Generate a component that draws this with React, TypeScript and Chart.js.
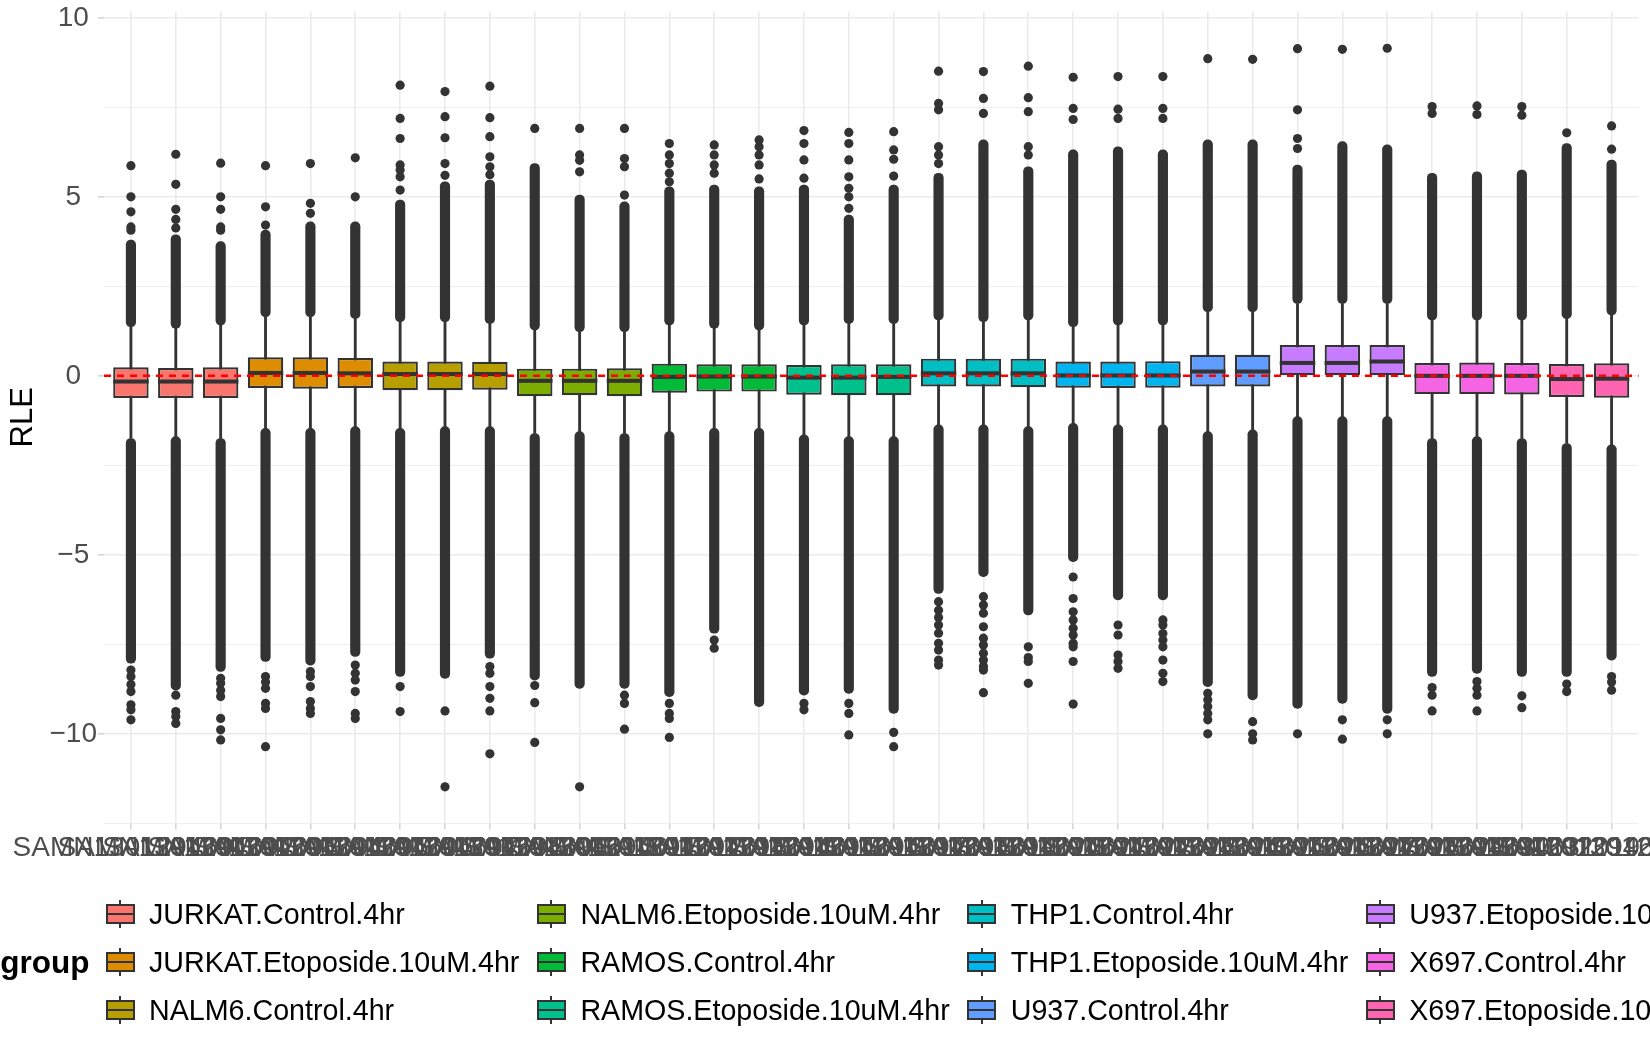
import { useEffect, useRef } from "react";
import { Chart, registerables } from "chart.js";

Chart.register(...registerables);

// groups (legend order) and ggplot hue colours
const groupNames = [
  "JURKAT.Control.4hr", "JURKAT.Etoposide.10uM.4hr", "NALM6.Control.4hr",
  "NALM6.Etoposide.10uM.4hr", "RAMOS.Control.4hr", "RAMOS.Etoposide.10uM.4hr",
  "THP1.Control.4hr", "THP1.Etoposide.10uM.4hr", "U937.Control.4hr",
  "U937.Etoposide.10uM.4hr", "X697.Control.4hr", "X697.Etoposide.10uM.4hr",
];
const groupColors = [
  "#F8766D", "#DE8C00", "#B79F00", "#7CAE00", "#00BA38", "#00C08B",
  "#00BFC4", "#00B4F0", "#619CFF", "#C77CFF", "#F564E3", "#FF64B0",
];

// samples on the x axis
const sampleNames = [
  "SAMN1301294601", "SAMN1301294602", "SAMN1301294603", "SAMN1301294604", "SAMN1301294605",
  "SAMN1301294606", "SAMN1301294607", "SAMN1301294608", "SAMN1301294609", "SAMN1301294610",
  "SAMN1301294611", "SAMN1301294612", "SAMN1301294613", "SAMN1301294614", "SAMN1301294615",
  "SAMN1301294616", "SAMN1301294617", "SAMN1301294618", "SAMN1301294619", "SAMN1301294620",
  "SAMN1301294621", "SAMN1301294622", "SAMN1301294623", "SAMN1301294624", "SAMN1301294625",
  "SAMN1301294626", "SAMN1301294627", "SAMN1301294628", "SAMN1301294629", "SAMN1301294630",
  "SAMN1301294631", "SAMN1301292019", "SAMN1301294633", "SAMN1301294634",
];
const sampleGroup = [0, 0, 0, 1, 1, 1, 2, 2, 2, 3, 3, 3, 4, 4, 4, 5, 5, 5, 6, 6, 6, 7, 7, 7, 8, 8, 9, 9, 9, 10, 10, 10, 11, 11];

// box statistics per sample (RLE)
const q1 = [-0.62, -0.62, -0.62, -0.34, -0.36, -0.34, -0.40, -0.40, -0.39, -0.57, -0.54, -0.57, -0.47, -0.44, -0.44, -0.53, -0.54, -0.54, -0.30, -0.30, -0.32, -0.33, -0.34, -0.33, -0.30, -0.30, 0.02, 0.02, 0.02, -0.51, -0.51, -0.52, -0.59, -0.61];
const median = [-0.16, -0.16, -0.16, 0.08, 0.08, 0.07, 0.05, 0.05, 0.05, -0.14, -0.14, -0.14, -0.03, -0.02, -0.02, -0.05, -0.05, -0.03, 0.07, 0.07, 0.07, 0.01, 0.01, 0.01, 0.12, 0.12, 0.36, 0.36, 0.40, 0.00, 0.00, 0.00, -0.09, -0.08];
const q3 = [0.24, 0.22, 0.24, 0.52, 0.52, 0.50, 0.40, 0.40, 0.39, 0.20, 0.20, 0.21, 0.34, 0.32, 0.32, 0.30, 0.32, 0.32, 0.48, 0.48, 0.48, 0.40, 0.40, 0.41, 0.59, 0.59, 0.86, 0.86, 0.86, 0.36, 0.37, 0.36, 0.33, 0.35];
const whiskerLow = [-1.75, -1.70, -1.75, -1.47, -1.47, -1.42, -1.47, -1.42, -1.42, -1.61, -1.56, -1.61, -1.56, -1.47, -1.47, -1.65, -1.70, -1.70, -1.37, -1.37, -1.42, -1.33, -1.37, -1.37, -1.56, -1.51, -1.14, -1.14, -1.14, -1.75, -1.70, -1.75, -1.89, -1.93];
const whiskerHigh = [1.37, 1.33, 1.42, 1.65, 1.65, 1.60, 1.51, 1.51, 1.46, 1.28, 1.23, 1.23, 1.42, 1.33, 1.28, 1.42, 1.46, 1.46, 1.56, 1.51, 1.56, 1.37, 1.42, 1.42, 1.79, 1.79, 2.02, 2.02, 2.02, 1.56, 1.56, 1.56, 1.60, 1.70];

// where the outliers are so dense they merge into a solid column
const denseLow = [-8.03, -8.78, -8.26, -7.98, -8.08, -7.84, -8.40, -8.45, -7.89, -8.50, -8.73, -8.73, -8.96, -7.19, -9.24, -8.92, -8.87, -9.43, -6.08, -5.61, -6.68, -5.19, -6.26, -6.26, -8.68, -9.05, -9.29, -9.15, -9.43, -8.40, -8.31, -8.40, -8.40, -7.94];
const denseHigh = [3.79, 3.94, 3.75, 4.07, 4.30, 4.30, 4.91, 5.42, 5.47, 5.93, 5.05, 4.86, 5.28, 5.33, 5.28, 5.33, 4.49, 5.33, 5.66, 6.59, 5.84, 6.31, 6.40, 6.31, 6.59, 6.59, 5.89, 6.54, 6.45, 5.66, 5.70, 5.75, 6.49, 6.03];

// separate outlier points beyond the dense columns
const outliersHigh: number[][] = [
  [4.07, 4.16, 4.58, 5.0, 5.87],
  [4.13, 4.37, 4.65, 5.35, 6.19],
  [4.07, 4.16, 4.65, 5.0, 5.94],
  [4.21, 4.72, 5.87],
  [4.54, 4.82, 5.93],
  [5.0, 6.09],
  [5.19, 5.56, 5.75, 5.89, 6.63, 7.19, 8.12],
  [5.60, 5.93, 6.65, 7.24, 7.94],
  [5.62, 5.84, 6.12, 6.68, 7.21, 8.09],
  [6.91],
  [5.70, 6.02, 6.17, 6.91],
  [5.05, 5.84, 6.07, 6.91],
  [5.42, 5.66, 5.93, 6.17, 6.49],
  [5.66, 5.89, 6.17, 6.45],
  [5.50, 5.89, 6.17, 6.40, 6.59],
  [5.52, 6.03, 6.49, 6.85],
  [4.68, 5.0, 5.24, 5.56, 6.03, 6.49, 6.80],
  [5.58, 6.05, 6.31, 6.82],
  [5.93, 6.17, 6.40, 7.43, 7.61, 8.51],
  [7.33, 7.75, 8.50],
  [6.17, 6.40, 7.38, 7.77, 8.65],
  [7.16, 7.47, 8.34],
  [7.19, 7.45, 8.36],
  [7.19, 7.47, 8.36],
  [8.86],
  [8.84],
  [6.35, 6.63, 7.43, 9.14],
  [9.12],
  [9.15],
  [7.33, 7.52],
  [7.30, 7.54],
  [7.28, 7.52],
  [6.79],
  [6.33, 6.98],
];
const outliersLow: number[][] = [
  [-8.22, -8.40, -8.62, -8.82, -9.19, -9.33, -9.61],
  [-8.92, -9.38, -9.52, -9.71],
  [-8.45, -8.59, -8.78, -8.96, -9.57, -9.89, -10.17],
  [-8.40, -8.55, -8.73, -9.15, -9.29, -10.36],
  [-8.26, -8.40, -8.68, -9.10, -9.29, -9.43],
  [-8.08, -8.31, -8.50, -8.82, -9.43, -9.57],
  [-8.68, -9.38],
  [-9.36, -11.48],
  [-8.12, -8.31, -8.68, -9.01, -9.36, -10.56],
  [-8.65, -9.13, -10.24],
  [-11.48],
  [-8.92, -9.15, -9.87],
  [-9.15, -9.43, -9.57, -10.10],
  [-7.38, -7.61],
  [],
  [-9.15, -9.33],
  [-9.15, -9.43, -10.03],
  [-9.96, -10.36],
  [-6.31, -6.55, -6.75, -6.96, -7.19, -7.47, -7.66, -7.94, -8.08],
  [-6.17, -6.40, -6.63, -7.01, -7.33, -7.52, -7.75, -7.94, -8.12, -8.22, -8.85],
  [-7.57, -7.87, -7.98, -8.59],
  [-5.62, -6.22, -6.59, -6.82, -7.05, -7.24, -7.47, -7.57, -7.98, -9.17],
  [-6.96, -7.24, -7.80, -7.98, -8.17],
  [-6.82, -6.96, -7.20, -7.38, -7.57, -7.94, -8.31, -8.54],
  [-8.87, -9.05, -9.24, -9.43, -9.61, -10.00],
  [-9.66, -10.00, -10.17],
  [-10.00],
  [-9.61, -10.15],
  [-9.61, -10.00],
  [-8.71, -8.92, -9.36],
  [-8.54, -8.73, -8.92, -9.36],
  [-8.94, -9.27],
  [-8.61, -8.82],
  [-8.40, -8.55, -8.78],
];

// y axis ticks
const yMajorTicks = [-10, -5, 0, 5, 10];
const yMajorLabels = ["\u221210", "\u22125", "0", "5", "10"];
const yMinorTicks = [-12.5, -7.5, -2.5, 2.5, 7.5];
const refLine = 0;

const FONT = "'Liberation Sans', Arial, sans-serif";
const INK = "#333333";

function BoxPlot() {
  const canvasRef = useRef<HTMLCanvasElement | null>(null);

  useEffect(() => {
    const ctx = canvasRef.current?.getContext("2d");
    if (!ctx) return;
    Chart.defaults.font.family = FONT;

    const pos = sampleNames.map((_, i) => i + 1);
    const boxes = pos.map((x, i) => ({ x, y: [q1[i], q3[i]] }));
    const whiskers = pos.map((x, i) => ({ x, y: [whiskerLow[i], whiskerHigh[i]] }));
    const denseUp = pos.map((x, i) => ({ x, y: [whiskerHigh[i], denseHigh[i]] }));
    const denseDown = pos.map((x, i) => ({ x, y: [denseLow[i], whiskerLow[i]] }));
    const points = pos.flatMap((x, i) =>
      [...outliersHigh[i], ...outliersLow[i]].map((y) => ({ x, y }))
    );

    // medians + red dashed reference line
    const overlay = {
      id: "overlay",
      afterDatasetsDraw(chart: any) {
        const c = chart.ctx;
        const { chartArea, scales } = chart;
        const meta = chart.getDatasetMeta(4);
        c.save();
        c.fillStyle = INK;
        meta.data.forEach((bar: any, i: number) => {
          const { x, width } = bar.getProps(["x", "width"], true);
          const py = scales.y.getPixelForValue(median[i]);
          c.fillRect(x - width / 2, py - 2, width, 4);
        });
        const p0 = scales.y.getPixelForValue(refLine);
        c.strokeStyle = "#FF0000";
        c.lineWidth = 2.4;
        c.setLineDash([7, 6]);
        c.beginPath();
        c.moveTo(chartArea.left, p0);
        c.lineTo(chartArea.right, p0);
        c.stroke();
        c.restore();
      },
    };

    const chart = new Chart(ctx, {
      type: "bar",
      data: {
        datasets: [
          {
            data: whiskers as any,
            backgroundColor: INK,
            barThickness: 2.2,
            grouped: false,
            order: 5,
          },
          {
            data: denseUp as any,
            backgroundColor: INK,
            barThickness: 9.5,
            borderRadius: 5,
            borderSkipped: false,
            grouped: false,
            order: 4,
          },
          {
            data: denseDown as any,
            backgroundColor: INK,
            barThickness: 9.5,
            borderRadius: 5,
            borderSkipped: false,
            grouped: false,
            order: 4,
          },
          {
            type: "line",
            data: points as any,
            showLine: false,
            pointRadius: 4.6,
            pointBackgroundColor: INK,
            pointBorderWidth: 0,
            order: 3,
          } as any,
          {
            data: boxes as any,
            backgroundColor: sampleGroup.map((g) => groupColors[g]),
            borderColor: INK,
            borderWidth: 2.2,
            borderSkipped: false,
            categoryPercentage: 1,
            barPercentage: 0.79,
            grouped: false,
            order: 1,
          },
        ],
      },
      options: {
        responsive: true,
        maintainAspectRatio: false,
        animation: false,
        layout: { padding: { top: 11.4, right: 11.5, left: 0, bottom: 0 } },
        plugins: { legend: { display: false }, tooltip: { enabled: false } },
        scales: {
          x: {
            type: "linear",
            min: 0.4,
            max: sampleNames.length + 0.6,
            offset: false,
            afterBuildTicks: (scale: any) => {
              scale.ticks = sampleNames.map((_, i) => ({ value: i + 1 }));
            },
            afterFit: (scale: any) => {
              scale.height = 226.7;
              scale.paddingLeft = 0;
              scale.paddingRight = 0;
            },
            ticks: {
              autoSkip: false,
              maxRotation: 0,
              minRotation: 0,
              padding: 2,
              color: "#4D4D4D",
              font: { size: 28 },
              callback: (_v: any, i: number) => sampleNames[i],
            },
            grid: {
              offset: false,
              color: "#EBEBEB",
              lineWidth: 1.6,
              tickColor: "#D6D6D6",
              tickLength: 6,
            },
            border: { display: false },
          },
          y: {
            min: -12.5,
            max: 10.18,
            afterBuildTicks: (scale: any) => {
              scale.ticks = [...yMinorTicks, ...yMajorTicks]
                .sort((a, b) => a - b)
                .map((v) => ({ value: v }));
            },
            afterFit: (scale: any) => {
              scale.width = 104;
              scale.paddingTop = 0;
              scale.paddingBottom = 0;
            },
            ticks: {
              color: "#4D4D4D",
              font: { size: 28 },
              padding: 1,
              crossAlign: "center",
              callback: (v: any) => {
                const k = yMajorTicks.indexOf(Number(v));
                return k >= 0 ? yMajorLabels[k] : "";
              },
            },
            grid: {
              color: "#EBEBEB",
              lineWidth: (c: any) => (yMajorTicks.includes(c.tick?.value) ? 1.6 : 0.8),
              tickColor: (c: any) => (yMajorTicks.includes(c.tick?.value) ? "#D6D6D6" : "rgba(0,0,0,0)"),
              tickLength: 6,
            },
            border: { display: false },
            title: {
              display: true,
              text: "RLE",
              color: "#000000",
              font: { size: 31 },
              padding: { top: 5, bottom: 0 },
            },
          },
        },
      },
      plugins: [overlay],
    } as any);

    return () => {
      chart.destroy();
    };
  }, []);

  return <canvas ref={canvasRef} />;
}

function LegendKey({ color }: { color: string }) {
  return (
    <div style={{ position: "relative", width: 30, height: 48, flex: "none" }}>
      <div style={{ position: "absolute", left: 14, top: 10, width: 2, height: 28, background: INK }} />
      <div
        style={{
          position: "absolute", left: 0.5, top: 14, width: 29, height: 20,
          boxSizing: "border-box", border: `2px solid ${INK}`, background: color,
        }}
      />
      <div style={{ position: "absolute", left: 0.5, top: 22.75, width: 29, height: 2.5, background: INK }} />
    </div>
  );
}

export default function App() {
  return (
    <div
      style={{
        position: "absolute", left: 0, top: 0, width: 1650, height: 1050,
        overflow: "hidden", background: "#ffffff", fontFamily: FONT,
      }}
    >
      <div style={{ position: "absolute", left: 0, top: 0, width: 1650, height: 1050 }}>
        <BoxPlot />
      </div>
      <div
        style={{
          position: "absolute", left: 0, top: 938, width: 89.5, height: 48,
          lineHeight: "48px", textAlign: "right", fontWeight: "bold", fontSize: 31.5, color: "#000",
        }}
      >
        group
      </div>
      <div
        style={{
          position: "absolute", left: 105, top: 890, width: "max-content",
          display: "grid", gridTemplateRows: "repeat(3, 48px)", gridAutoFlow: "column",
          columnGap: 17, whiteSpace: "nowrap",
        }}
      >
        {groupNames.map((name, g) => (
          <div key={name} style={{ display: "flex", alignItems: "center" }}>
            <LegendKey color={groupColors[g]} />
            <span style={{ marginLeft: 14, fontSize: 28.65, color: "#000", lineHeight: "48px" }}>{name}</span>
          </div>
        ))}
      </div>
    </div>
  );
}
